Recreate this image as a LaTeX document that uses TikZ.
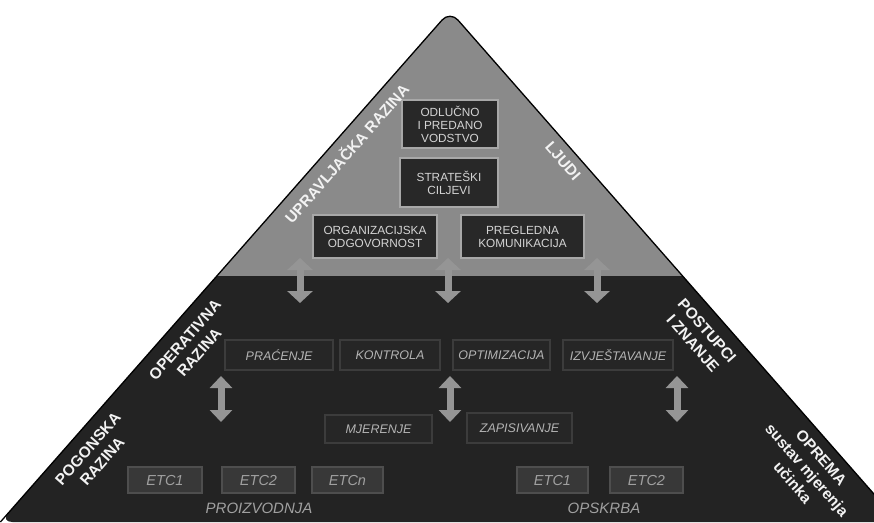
\documentclass[tikz,border=0pt]{standalone}
\usepackage{fontspec}
\setmainfont{Liberation Sans}
\usetikzlibrary{arrows.meta}
\definecolor{pyrgray}{HTML}{8A8A8A}
\definecolor{pyrdark}{HTML}{232323}
\definecolor{boxdark}{HTML}{282828}
\definecolor{boxedge}{HTML}{A8A8A8}
\definecolor{opbox}{HTML}{262626}
\definecolor{opedge}{HTML}{3C3C3C}
\definecolor{etcbox}{HTML}{383838}
\definecolor{etcedge}{HTML}{4E4E4E}
\definecolor{arrowgray}{HTML}{959595}
\definecolor{toptext}{HTML}{D4D4D4}
\definecolor{optext}{HTML}{B4B4B4}
\definecolor{etctext}{HTML}{A0A0A0}
\definecolor{sidetext}{HTML}{F2F2F2}
\tikzset{
  topbox/.style={fill=boxdark, draw=boxedge, line width=1.2pt, text=toptext,
    font=\fontsize{11.8}{13}\selectfont, align=center, inner sep=0pt},
  opbx/.style={fill=opbox, draw=opedge, line width=1.2pt, text=optext,
    font=\itshape\fontsize{12.5}{14}\selectfont, inner sep=0pt},
  etcbx/.style={fill=etcbox, draw=etcedge, line width=1.2pt, text=etctext,
    font=\itshape\fontsize{14.5}{16}\selectfont, inner sep=0pt, minimum height=26pt},
  grouplab/.style={text=etctext, font=\itshape\fontsize{15}{16}\selectfont, inner sep=0pt},
  sidelab/.style={text=sidetext, font=\bfseries\fontsize{15.5}{19}\selectfont, align=center, inner sep=0pt},
  dblarrow/.style={draw=arrowgray, line width=7pt,
    {Triangle[width=25pt,length=12pt]}-{Triangle[width=25pt,length=12pt]}},
  dblarrowsmall/.style={draw=arrowgray, line width=7pt,
    {Triangle[width=22pt,length=12pt]}-{Triangle[width=22pt,length=12pt]}},
}
\begin{document}
\begin{tikzpicture}[x=1pt,y=-1pt]
\useasboundingbox (0,0) rectangle (874,522);
\begin{scope}
  \clip (0,0) rectangle (874,522);
  \path[fill=pyrdark, rounded corners=12pt] (0.4,522) -- (450,11) -- (898.5,522) -- cycle;
  \begin{scope}
    \clip (0,0) rectangle (874,275);
    \path[fill=pyrgray, rounded corners=12pt] (0.4,522) -- (450,11) -- (898.5,522) -- cycle;
  \end{scope}
  \draw[black, line width=1.3pt, rounded corners=12pt] (0.4,522) -- (450,11) -- (898.5,522);
\end{scope}

% top level boxes
\node[topbox, minimum width=96pt, minimum height=48pt] (lead) at (450,124) {ODLUČNO\\I PREDANO\\VODSTVO};
\node[topbox, minimum width=98pt, minimum height=49pt] (goals) at (449,182.5) {STRATEŠKI\\CILJEVI};
\node[topbox, minimum width=124pt, minimum height=43pt] (org) at (375,236.5) {ORGANIZACIJSKA\\ODGOVORNOST};
\node[topbox, minimum width=123pt, minimum height=43pt] (comm) at (522.5,236.5) {PREGLEDNA\\KOMUNIKACIJA};

% operative boxes
\node[opbx, minimum width=108pt, minimum height=30pt] (prac) at (279,355) {PRAĆENJE};
\node[opbx, minimum width=100pt, minimum height=30pt] (kontr) at (390,355) {KONTROLA};
\node[opbx, minimum width=97pt, minimum height=30pt] (optim) at (501.5,355) {OPTIMIZACIJA};
\node[opbx, minimum width=110pt, minimum height=30pt] (izvj) at (618,355) {IZVJEŠTAVANJE};
\node[opbx, minimum width=107pt, minimum height=28pt] (mjer) at (378.5,429) {MJERENJE};
\node[opbx, minimum width=105pt, minimum height=30pt] (zapis) at (519.5,428) {ZAPISIVANJE};

% plant boxes
\node[etcbx, minimum width=74pt] (e1) at (165,480) {ETC1};
\node[etcbx, minimum width=73pt] (e2) at (258.5,480) {ETC2};
\node[etcbx, minimum width=71pt] (en) at (347.5,480) {ETCn};
\node[etcbx, minimum width=71pt] (s1) at (552.5,480) {ETC1};
\node[etcbx, minimum width=73pt] (s2) at (646.5,480) {ETC2};
\node[grouplab] (proiz) at (259,508) {PROIZVODNJA};
\node[grouplab] (opskr) at (604,508) {OPSKRBA};

% arrows
\coordinate (a1t) at (300,258); \coordinate (a1b) at (300,303);
\coordinate (a2t) at (448,258); \coordinate (a2b) at (448,303);
\coordinate (a3t) at (597,258); \coordinate (a3b) at (597,303);
\coordinate (b1t) at (221,376); \coordinate (b1b) at (221,422);
\coordinate (b2t) at (450,376); \coordinate (b2b) at (450,422);
\coordinate (b3t) at (677,376); \coordinate (b3b) at (677,422);
\draw[dblarrow] (a1t) -- (a1b);
\draw[dblarrow] (a2t) -- (a2b);
\draw[dblarrow] (a3t) -- (a3b);
\draw[dblarrowsmall] (b1t) -- (b1b);
\draw[dblarrowsmall] (b2t) -- (b2b);
\draw[dblarrowsmall] (b3t) -- (b3b);

% side labels
\node[sidelab, rotate=48.7] (upr) at (346,153) {UPRAVLJAČKA RAZINA};
\node[sidelab, rotate=-48.7] (ljudi) at (563,161) {LJUDI};
\node[sidelab, rotate=48.7] (oper) at (192,346) {OPERATIVNA\\RAZINA};
\node[sidelab, rotate=-48.7] (post) at (700,337) {POSTUPCI\\I ZNANJE};
\node[sidelab, rotate=48.7] (pog) at (95,455) {POGONSKA\\RAZINA};
\node[sidelab, rotate=-48.7] (opr) at (807,470) {OPREMA\\sustav mjerenja\\učinka};
\end{tikzpicture}
\end{document}
